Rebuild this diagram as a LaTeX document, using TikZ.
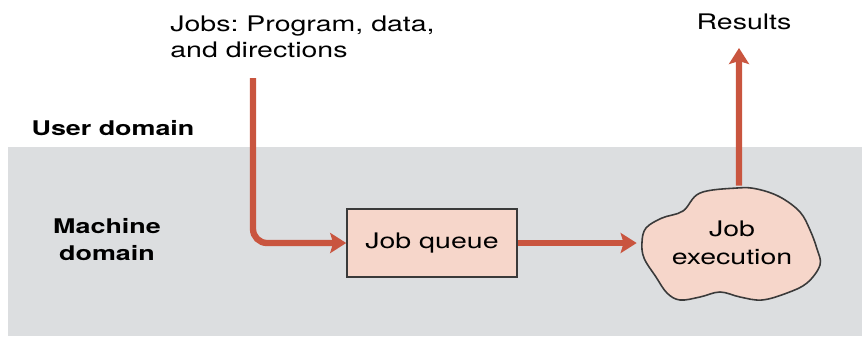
\documentclass[tikz,border=0pt]{standalone}
\usepackage{fontspec}
\setmainfont{TeX Gyre Heros}[FakeStretch=1.33]
\usetikzlibrary{arrows.meta}
\definecolor{domaingray}{HTML}{DCDEE0}
\definecolor{flowred}{HTML}{C9553F}
\definecolor{boxpink}{HTML}{F6D6CA}
\definecolor{edgegray}{HTML}{3A3A3A}
\frenchspacing

\begin{document}
\begin{tikzpicture}[x=0.02cm,y=-0.02cm,flow/.style={draw=flowred,line width=3.6pt,-{Stealth[length=3.2mm,width=4mm,inset=0.6mm]},rounded corners=8pt},task/.style={rectangle,draw=edgegray,line width=0.9pt,fill=boxpink,minimum width=3.4cm,minimum height=1.36cm,inner sep=0pt,font=\fontsize{12.2}{15}\selectfont},caption/.style={align=left,inner sep=0pt,font=\fontsize{12.2}{14.8}\selectfont},realm/.style={align=center,inner sep=0pt,font=\fontsize{11.5}{15.4}\selectfont\bfseries}]
\useasboundingbox (0,0) rectangle (862,336);
\fill[domaingray] (8,147) rectangle (862,336);
\coordinate (jobsfoot) at (253,78);
\coordinate (resultstop) at (739,48);
\node[realm] (user) at (113,128) {User domain};
\node[realm] (machine) at (107,240) {Machine\\domain};
\node[caption,anchor=north west] (jobs) at (170,16) {Jobs: Program, data,\\and directions};
\node[caption] (results) at (744,22) {Results};
\node[task] (queue) at (432,243) {Job queue};
\fill[boxpink,draw=edgegray,line width=0.9pt] plot[smooth cycle,tension=0.6] coordinates {(737,188) (700,193) (683,211) (662,218) (646,228) (642,242) (644,258) (656,277) (667,293) (680,300) (700,297) (720,292) (740,297) (762,300) (787,293) (807,283) (820,265) (817,249) (810,230) (800,212) (780,197) (757,189)};
\node[align=center,inner sep=0pt,minimum width=3.8cm,minimum height=2.28cm,font=\fontsize{12.2}{16}\selectfont] (exec) at (732,243) {Job\\execution};
\draw[flow] (jobsfoot) |- (queue.west);
\draw[flow] (queue.east) -- (queue.east -| exec.west);
\draw[flow] ([xshift=0.14cm]exec.north) -- (resultstop);
\end{tikzpicture}
\end{document}
